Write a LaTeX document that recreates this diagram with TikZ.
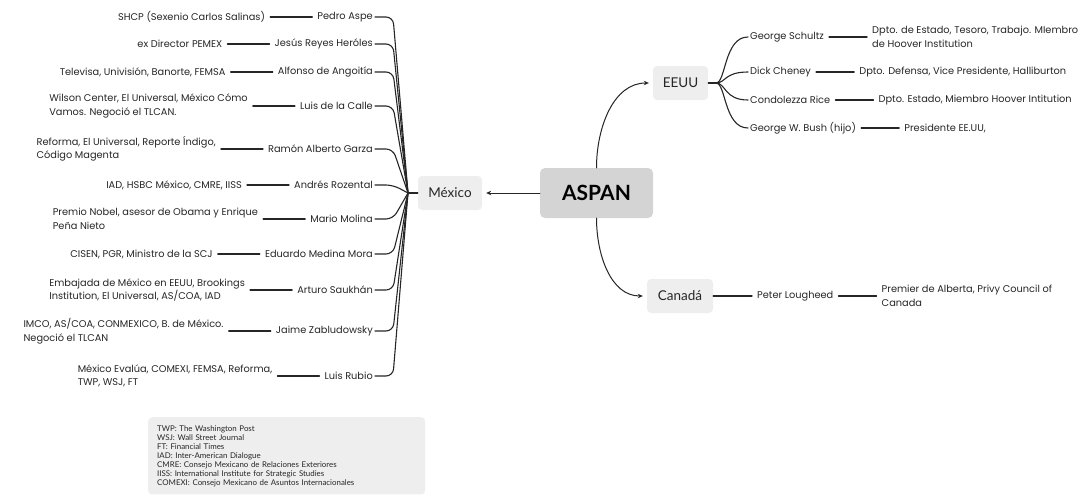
\documentclass[tikz,border=0pt]{standalone}
\usepackage{fontspec}
\setmainfont{Lato}
\newfontfamily\leaffont{Poppins}
\usetikzlibrary{arrows.meta,positioning}

\definecolor{boxgray}{HTML}{D4D4D4}
\definecolor{lightbox}{HTML}{EEEEEE}
\definecolor{ink}{HTML}{262626}

\tikzset{
  topic/.style={fill=boxgray, rounded corners=5pt, minimum width=113pt, minimum height=50pt,
    font=\bfseries\fontsize{21}{24}\selectfont, text=black},
  country/.style={fill=lightbox, rounded corners=4pt, minimum height=34pt,
    font=\fontsize{13.5}{16}\selectfont},
  who/.style={inner sep=2pt, font=\leaffont\fontsize{9.8}{13.5}\selectfont},
  info/.style={who, align=left},
  link/.style={line width=1.3pt, shorten <=3pt, shorten >=3pt},
  branch/.style={line width=1.1pt, rounded corners=7pt},
  tip/.style={line width=1pt, -{Stealth[length=5pt,width=4.5pt]}, shorten >=4pt},
  legend/.style={fill=lightbox, rounded corners=4pt, align=left, text width=259pt,
    inner xsep=9pt, inner ysep=8pt, font=\fontsize{7.9}{9}\selectfont}
}

\begin{document}
\begin{tikzpicture}[x=1pt, y=1pt, color=ink, line cap=round]
  \useasboundingbox (0,0) rectangle (1083,-495);
  \clip (0,0) rectangle (1083,-495);

  % centre
  \node[topic] (aspan) at (596.5,-193) {ASPAN};

  % Mexico
  \node[country, minimum width=64pt] (mx) at (450,-193) {México};
  \coordinate (mxhub) at (408,-193);
  \draw[tip] (aspan) -- (mx);
  \draw[line width=1.1pt] (mx.west) -- (mxhub);
  \foreach \i/\y/\nm/\ds in {
    1/17/Pedro Aspe/{SHCP (Sexenio Carlos Salinas)},
    2/44/Jesús Reyes Heróles/{ex Director PEMEX},
    3/72/Alfonso de Angoitía/{Televisa, Univisión, Banorte, FEMSA},
    4/106/Luis de la Calle/{Wilson Center, El Universal, México Cómo\\Vamos. Negoció el TLCAN.},
    5/149/Ramón Alberto Garza/{Reforma, El Universal, Reporte Índigo,\\Código Magenta},
    6/185/Andrés Rozental/{IAD, HSBC México, CMRE, IISS},
    7/219/Mario Molina/{Premio Nobel, asesor de Obama y Enrique\\Peña Nieto},
    8/254/Eduardo Medina Mora/{CISEN, PGR, Ministro de la SCJ},
    9/290/Arturo Saukhán/{Embajada de México en EEUU, Brookings\\Institution, El Universal, AS/COA, IAD},
    10/331/Jaime Zabludowsky/{IMCO, AS/COA, CONMEXICO, B. de México.\\Negoció el TLCAN},
    11/376/Luis Rubio/{México Evalúa, COMEXI, FEMSA, Reforma,\\TWP, WSJ, FT}}
  {
    \node[who, anchor=east] (mn\i) at (375,-\y) {\nm};
    \node[info, left=48pt of mn\i] (md\i) {\ds};
    \draw[link] (md\i) -- (mn\i);
    \draw[branch] (mxhub) -- (393,-\y) -- (mn\i.east);
  }

  % EEUU
  \node[country, minimum width=55pt] (eeuu) at (680.5,-83) {EEUU};
  \coordinate (eehub) at (716,-83);
  \draw[tip] (aspan.north) to[out=90, in=180] (eeuu.west);
  \draw[line width=1.1pt] (eeuu.east) -- (eehub);
  \foreach \i/\y/\nm/\ds in {
    1/37/George Schultz/{Dpto. de Estado,  Tesoro, Trabajo. MIembro\\de Hoover Institution},
    2/72/Dick Cheney/{Dpto. Defensa, Vice Presidente, Halliburton},
    3/100/Condolezza Rice/{Dpto. Estado, Miembro Hoover Intitution},
    4/128/George W. Bush (hijo)/{Presidente EE.UU,}}
  {
    \node[who, anchor=west] (en\i) at (748,-\y) {\nm};
    \node[info, right=44pt of en\i] (ed\i) {\ds};
    \draw[link] (en\i) -- (ed\i);
    \draw[line width=1.1pt] (eehub) .. controls +(10,0) and +(-24,0) .. (en\i.west);
  }

  % Canada
  \node[country, minimum width=66pt] (cnd) at (680,-296) {Canadá};
  \node[who, anchor=west] (pl) at (755,-296) {Peter Lougheed};
  \node[info, right=44pt of pl] (plx) {Premier de Alberta, Privy Council of\\Canada};
  \draw[tip] (aspan.south) to[out=-90, in=180] (cnd.west);
  \draw[link, shorten <=0pt] (cnd) -- (pl);
  \draw[link] (pl) -- (plx);

  % abbreviations
  \node[legend, anchor=north west] (key) at (148,-417) {TWP: The Washington Post\\
    WSJ: Wall Street Journal\\
    FT: Financial Times\\
    IAD: Inter-American Dialogue\\
    CMRE: Consejo Mexicano de Relaciones Exteriores\\
    IISS: International Institute for Strategic Studies\\
    COMEXI: Consejo Mexicano de Asuntos Internacionales};
\end{tikzpicture}
\end{document}
